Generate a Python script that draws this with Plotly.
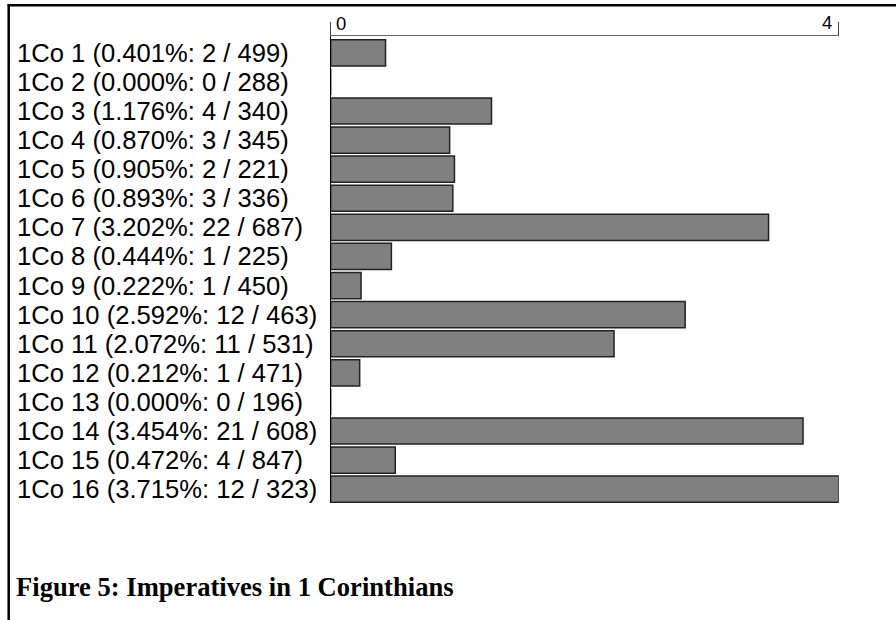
import plotly.graph_objects as go

chapters = list(range(1, 17))
counts = [2, 0, 4, 3, 2, 3, 22, 1, 1, 12, 11, 1, 0, 21, 4, 12]
totals = [499, 288, 340, 345, 221, 336, 687, 225, 450, 463, 531, 471, 196, 608, 847, 323]
percents = [0.401, 0.000, 1.176, 0.870, 0.905, 0.893, 3.202, 0.444, 0.222,
            2.592, 2.072, 0.212, 0.000, 3.454, 0.472, 3.715]
axis_tick_labels = ["0", "4"]
title_text = "Figure 5: Imperatives in 1 Corinthians"

W, H = 896, 620
labels = [f"1Co {c} ({p:.3f}%: {n} / {t})" for c, p, n, t in zip(chapters, percents, counts, totals)]
cats = [f"c{c}" for c in chapters]
xmax = max(percents)

fig = go.Figure(go.Bar(
    x=percents, y=cats, orientation="h",
    marker=dict(color="#808080", line=dict(color="#222222", width=1.5)),
    hoverinfo="skip",
))

def px_x(px):
    return px / W

def px_y(py):
    return 1 - py / H

annotations = []
for cat, lab in zip(cats, labels):
    annotations.append(dict(
        x=px_x(15), xref="paper", y=cat, yref="y", text=lab, showarrow=False,
        xanchor="left", yanchor="middle",
        font=dict(family="Liberation Sans, Arial", size=25.6, color="black"),
    ))
annotations.append(dict(
    x=0, xref="x", y=px_y(23), yref="paper", text=axis_tick_labels[0], showarrow=False,
    xanchor="left", yanchor="middle", xshift=3,
    font=dict(family="Liberation Sans, Arial", size=18.5, color="black"),
))
annotations.append(dict(
    x=xmax, xref="x", y=px_y(22.5), yref="paper", text=axis_tick_labels[1], showarrow=False,
    xanchor="right", yanchor="middle", xshift=-5,
    font=dict(family="Liberation Sans, Arial", size=18.5, color="black"),
))
annotations.append(dict(
    x=px_x(14), xref="paper", y=px_y(587), yref="paper", text=f"<b>{title_text}</b>",
    showarrow=False, xanchor="left", yanchor="middle",
    font=dict(family="Liberation Serif, Times New Roman", size=26.6, color="black"),
))

shapes = [
    dict(type="line", xref="paper", yref="paper", x0=px_x(7.5), x1=1, y0=px_y(5.3), y1=px_y(5.3),
         line=dict(color="black", width=2.5)),
    dict(type="line", xref="paper", yref="paper", x0=px_x(8.7), x1=px_x(8.7), y0=px_y(4.2), y1=0,
         line=dict(color="black", width=2.5)),
]

fig.update_layout(
    width=W, height=H,
    margin=dict(l=0, r=0, t=0, b=0),
    paper_bgcolor="white", plot_bgcolor="white",
    showlegend=False,
    bargap=0.1,
    annotations=annotations,
    shapes=shapes,
    xaxis=dict(
        domain=[px_x(330.7), px_x(838.7)], range=[0, xmax], side="top",
        showline=True, linecolor="#666666", linewidth=1,
        ticks="outside", ticklen=13, tickcolor="#444444", tickwidth=1,
        tickvals=[0, xmax], showticklabels=False, showgrid=False, zeroline=False,
        fixedrange=True,
    ),
    yaxis=dict(
        domain=[px_y(503), px_y(36)], range=[15.474, -0.578],
        categoryorder="array", categoryarray=cats,
        showline=True, linecolor="black", linewidth=1,
        showticklabels=False, ticks="", showgrid=False, zeroline=False,
        fixedrange=True,
    ),
)

fig.write_html(
    "out.html",
    config={"displayModeBar": False, "staticPlot": True},
    post_script="document.body.style.margin='0';document.body.style.overflow='hidden';",
)
